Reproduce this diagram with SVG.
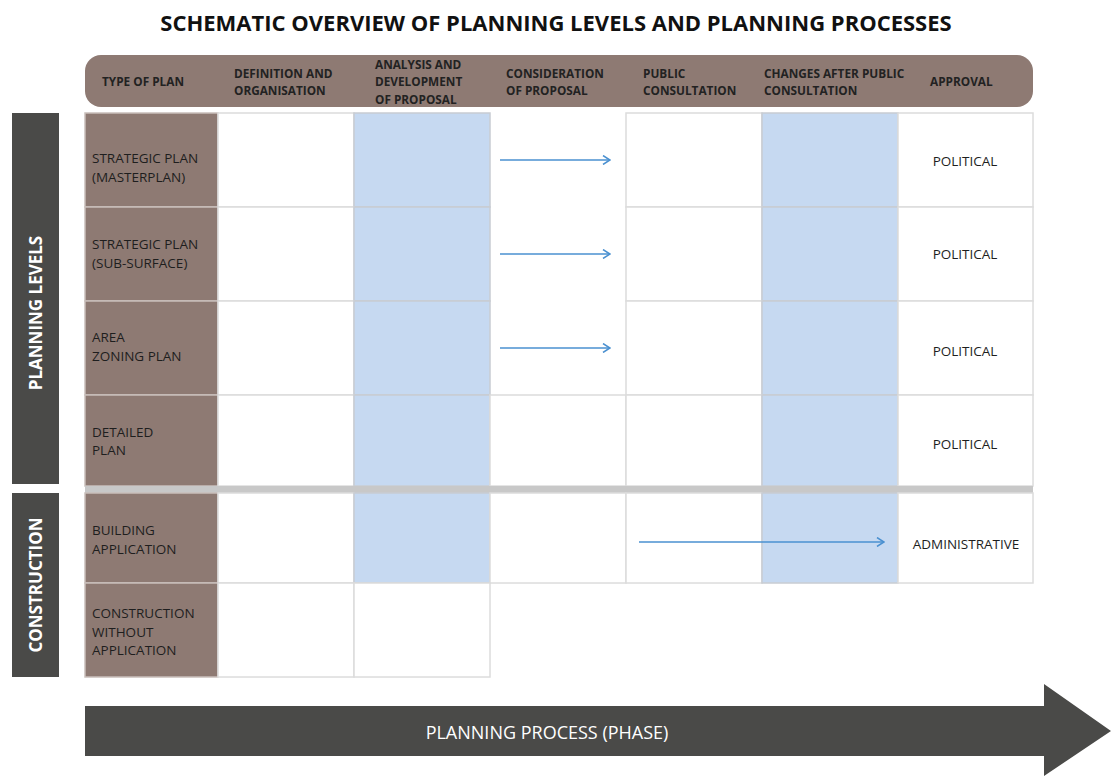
<svg xmlns="http://www.w3.org/2000/svg" width="1111" height="776" viewBox="0 0 1111 776">
<style>
.hdr{font-family:"Open Sans","Liberation Sans",sans-serif;font-weight:bold;font-size:11.8px;fill:#222}
.lbl{font-family:"Open Sans","Liberation Sans",sans-serif;font-size:13.5px;fill:#1e1e1e}
.side{font-family:"Open Sans","Liberation Sans",sans-serif;font-weight:bold;font-size:17px;fill:#fff}
.title{font-family:"Open Sans","Liberation Sans",sans-serif;font-weight:bold;font-size:22px;fill:#111}
.cell{fill:#fff;stroke:#dcdcdc;stroke-width:1.5}
.blue{fill:#c6d9f1;stroke:#c8ccd2;stroke-width:1.5}
.brown{fill:#8e7a73;stroke:#c9bfbb;stroke-width:1.5}
.dark{fill:#4a4a48}
.conn{stroke:#4a90d0;stroke-width:1.5;fill:none}
</style>
<defs>
<marker id="ah" viewBox="0 0 10 10" refX="9" refY="5" markerWidth="10" markerHeight="10" markerUnits="userSpaceOnUse" orient="auto">
<path d="M2,0.5 L9,5 L2,9.5" fill="none" stroke="#4a90d0" stroke-width="1.5"/>
</marker>
</defs>
<rect width="1111" height="776" fill="#fff"/>
<text class="title" x="556" y="31" text-anchor="middle">SCHEMATIC OVERVIEW OF PLANNING LEVELS AND PLANNING PROCESSES</text>

<g id="header">
<rect x="85" y="55" width="948" height="52" rx="16" fill="#8e7a73"/>
<text class="hdr" x="102" y="86">TYPE OF PLAN</text>
<text class="hdr" x="234" y="78">DEFINITION AND</text>
<text class="hdr" x="234" y="95">ORGANISATION</text>
<text class="hdr" x="375" y="69">ANALYSIS AND</text>
<text class="hdr" x="375" y="86">DEVELOPMENT</text>
<text class="hdr" x="375" y="104">OF PROPOSAL</text>
<text class="hdr" x="506" y="78">CONSIDERATION</text>
<text class="hdr" x="506" y="95">OF PROPOSAL</text>
<text class="hdr" x="643" y="78">PUBLIC</text>
<text class="hdr" x="643" y="95">CONSULTATION</text>
<text class="hdr" x="764" y="78">CHANGES AFTER PUBLIC</text>
<text class="hdr" x="764" y="95">CONSULTATION</text>
<text class="hdr" x="930" y="86">APPROVAL</text>
</g>

<g id="sidebar-planning">
<rect class="dark" x="12" y="113" width="47" height="371"/>
<text class="side" transform="translate(42,313) rotate(-90)" text-anchor="middle">PLANNING LEVELS</text>
</g>
<g id="sidebar-construction">
<rect class="dark" x="12" y="493" width="47" height="184"/>
<text class="side" transform="translate(42,585) rotate(-90)" text-anchor="middle">CONSTRUCTION</text>
</g>

<g id="row1">
<rect class="brown" x="85" y="113" width="133" height="94"/>
<text class="lbl" x="92" y="163">STRATEGIC PLAN</text>
<text class="lbl" x="92" y="182">(MASTERPLAN)</text>
<rect class="cell" x="218" y="113" width="136" height="94"/>
<rect class="blue" x="354" y="113" width="136" height="94"/>
<rect class="cell" x="626" y="113" width="136" height="94"/>
<rect class="blue" x="762" y="113" width="136" height="94"/>
<rect class="cell" x="898" y="113" width="135" height="94"/>
<text class="lbl" x="965" y="166" text-anchor="middle">POLITICAL</text>
</g>
<g id="row2">
<rect class="brown" x="85" y="207" width="133" height="94"/>
<text class="lbl" x="92" y="249">STRATEGIC PLAN</text>
<text class="lbl" x="92" y="268">(SUB-SURFACE)</text>
<rect class="cell" x="218" y="207" width="136" height="94"/>
<rect class="blue" x="354" y="207" width="136" height="94"/>
<rect class="cell" x="626" y="207" width="136" height="94"/>
<rect class="blue" x="762" y="207" width="136" height="94"/>
<rect class="cell" x="898" y="207" width="135" height="94"/>
<text class="lbl" x="965" y="259" text-anchor="middle">POLITICAL</text>
</g>
<g id="row3">
<rect class="brown" x="85" y="301" width="133" height="94"/>
<text class="lbl" x="92" y="342">AREA</text>
<text class="lbl" x="92" y="361">ZONING PLAN</text>
<rect class="cell" x="218" y="301" width="136" height="94"/>
<rect class="blue" x="354" y="301" width="136" height="94"/>
<rect class="cell" x="626" y="301" width="136" height="94"/>
<rect class="blue" x="762" y="301" width="136" height="94"/>
<rect class="cell" x="898" y="301" width="135" height="94"/>
<text class="lbl" x="965" y="356" text-anchor="middle">POLITICAL</text>
</g>
<g id="row4">
<rect class="brown" x="85" y="395" width="133" height="91"/>
<text class="lbl" x="92" y="437">DETAILED</text>
<text class="lbl" x="92" y="455">PLAN</text>
<rect class="cell" x="218" y="395" width="136" height="91"/>
<rect class="blue" x="354" y="395" width="136" height="91"/>
<rect class="cell" x="490" y="395" width="136" height="91"/>
<rect class="cell" x="626" y="395" width="136" height="91"/>
<rect class="blue" x="762" y="395" width="136" height="91"/>
<rect class="cell" x="898" y="395" width="135" height="91"/>
<text class="lbl" x="965" y="449" text-anchor="middle">POLITICAL</text>
</g>
<g id="separator">
<rect x="85" y="486" width="948" height="7" fill="#c8c8c8"/>
</g>
<g id="row5">
<rect class="brown" x="85" y="493" width="133" height="90"/>
<text class="lbl" x="92" y="535">BUILDING</text>
<text class="lbl" x="92" y="554">APPLICATION</text>
<rect class="cell" x="218" y="493" width="136" height="90"/>
<rect class="blue" x="354" y="493" width="136" height="90"/>
<rect class="cell" x="490" y="493" width="136" height="90"/>
<rect class="cell" x="626" y="493" width="136" height="90"/>
<rect class="blue" x="762" y="493" width="136" height="90"/>
<rect class="cell" x="898" y="493" width="135" height="90"/>
<text class="lbl" x="966" y="549" text-anchor="middle">ADMINISTRATIVE</text>
</g>
<g id="row6">
<rect class="brown" x="85" y="583" width="133" height="94"/>
<text class="lbl" x="92" y="618">CONSTRUCTION</text>
<text class="lbl" x="92" y="637">WITHOUT</text>
<text class="lbl" x="92" y="655">APPLICATION</text>
<rect class="cell" x="218" y="583" width="136" height="94"/>
<rect class="cell" x="354" y="583" width="136" height="94"/>
</g>

<g id="connectors">
<line class="conn" x1="500" y1="160" x2="610" y2="160" marker-end="url(#ah)"/>
<line class="conn" x1="500" y1="254" x2="610" y2="254" marker-end="url(#ah)"/>
<line class="conn" x1="500" y1="348" x2="610" y2="348" marker-end="url(#ah)"/>
<line class="conn" x1="639" y1="542" x2="884" y2="542" marker-end="url(#ah)"/>
</g>

<g id="process-arrow">
<path class="dark" d="M85,706 L1044,706 L1044,684 L1111,731 L1044,776 L1044,756 L85,756 Z"/>
<text x="547" y="739" text-anchor="middle" font-family="Open Sans, Liberation Sans, sans-serif" font-size="18" fill="#fff">PLANNING PROCESS (PHASE)</text>
</g>
</svg>
